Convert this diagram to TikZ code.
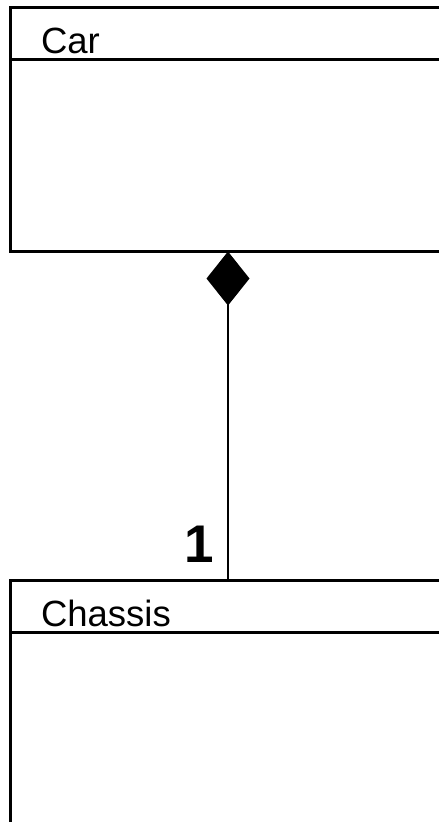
\documentclass[tikz,border=0pt]{standalone}
\usepackage{fontspec}
\setmainfont{Liberation Sans}
\usepackage{tikz}
\usetikzlibrary{positioning,arrows.meta}

\tikzset{
  classname/.style={draw, line width=3pt, outer sep=0pt, anchor=north west,
    minimum width=435pt, minimum height=52pt, inner ysep=0pt, inner xsep=30.5pt,
    text width=374pt, align=left, text height=39pt, text depth=0pt,
    font=\fontsize{36.5pt}{40pt}\selectfont},
  classbody/.style={draw, line width=3pt, outer sep=0pt,
    minimum width=435pt, minimum height=200pt},
  composition/.style={line width=2pt, {Diamond[length=54pt,width=43pt]}-},
  mult/.style={font=\fontsize{53pt}{56pt}\selectfont\bfseries, inner xsep=13pt, inner ysep=17pt}
}

\begin{document}
\begin{tikzpicture}[x=1pt, y=-1pt]
\useasboundingbox (0,0) rectangle (439,822);
\clip (0,0) rectangle (439,822);
\node[classname] (carname) at (10.5,7.5) {Car};
\node[classbody, minimum height=192pt, below=0pt of carname] (carbody) {};
\node[classname] (chassisname) at (10.5,580.5) {Chassis};
\node[classbody, below=0pt of chassisname] (chassisbody) {};
\draw[composition] (carbody.south) -- node[mult, pos=1, anchor=south east] {1} (chassisname.north);
\end{tikzpicture}
\end{document}
